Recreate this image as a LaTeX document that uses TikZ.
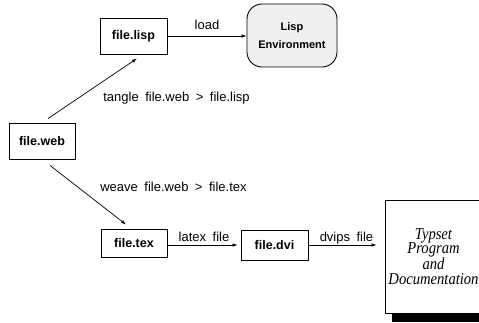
\documentclass[tikz,border=0pt]{standalone}
\usepackage{fontspec}
\setmainfont{Liberation Sans}
\newfontfamily\typsetfont[FakeStretch=0.88]{Liberation Serif}
\usetikzlibrary{arrows.meta, shadows, positioning}
\newcommand\cmdfont{\fontsize{13}{15}\selectfont\spaceskip 0.5em\relax}

\begin{document}
\begin{tikzpicture}[
    x=1pt, y=-1pt,
    filebox/.style={rectangle, draw, line width=0.9pt, inner sep=0pt, font=\fontsize{12.5}{14}\selectfont\bfseries},
    cmd/.style={inner sep=0pt, font=\cmdfont},
    arrow/.style={-{Latex[length=5pt,width=3.5pt]}, line width=0.7pt}
]
    \useasboundingbox (0,0) rectangle (479,322);

    \node[filebox, minimum width=66pt, minimum height=36pt] (web) at (42,141) {file.web};
    \node[filebox, minimum width=67pt, minimum height=36pt] (lisp) at (133.5,36) {file.lisp};
    \node[filebox, rounded corners=15pt, fill=black!6, minimum width=90pt, minimum height=63pt,
          align=center, font=\fontsize{11}{18}\selectfont\bfseries] (env) at (292,35.5) {Lisp\\Environment};
    \node[filebox, minimum width=66pt, minimum height=28pt] (tex) at (134,243) {file.tex};
    \node[filebox, minimum width=67pt, minimum height=30pt] (dvi) at (274.5,245) {file.dvi};
    \node[draw, fill=white, line width=0.9pt, minimum width=97pt, minimum height=113pt, align=center,
          drop shadow={shadow xshift=7pt, shadow yshift=-9pt, fill=black, opacity=1},
          font=\typsetfont\itshape\fontsize{16.6}{14.5}\selectfont] (doc) at (433.5,256.5)
          {Typset\\Program\\and\\Documentation};

    \draw[arrow] (lisp.east) -- (lisp.east -| env.west)
        node[cmd, midway, anchor=base, yshift=7pt] {load};
    \draw[arrow] ([xshift=6pt,yshift=4pt]web.north) -- ([xshift=3.5pt,yshift=-4pt]lisp.south)
        node[cmd, midway, anchor=west, xshift=10.5pt, yshift=-9.5pt] {tangle file.web > file.lisp};
    \draw[arrow] ([xshift=8pt,yshift=-6pt]web.south) -- ([xshift=-8pt,yshift=4pt]tex.north)
        node[cmd, midway, anchor=west, xshift=12pt, yshift=8pt] {weave file.web > file.tex};
    \draw[arrow, shorten >=3pt] (tex.east |- dvi.west) -- (dvi.west)
        node[cmd, midway, anchor=base, yshift=4pt] {latex file};
    \draw[arrow, shorten >=8pt] (dvi.east) -- (doc.west |- dvi.east)
        node[cmd, midway, anchor=base, yshift=4pt] {dvips file};
\end{tikzpicture}
\end{document}
